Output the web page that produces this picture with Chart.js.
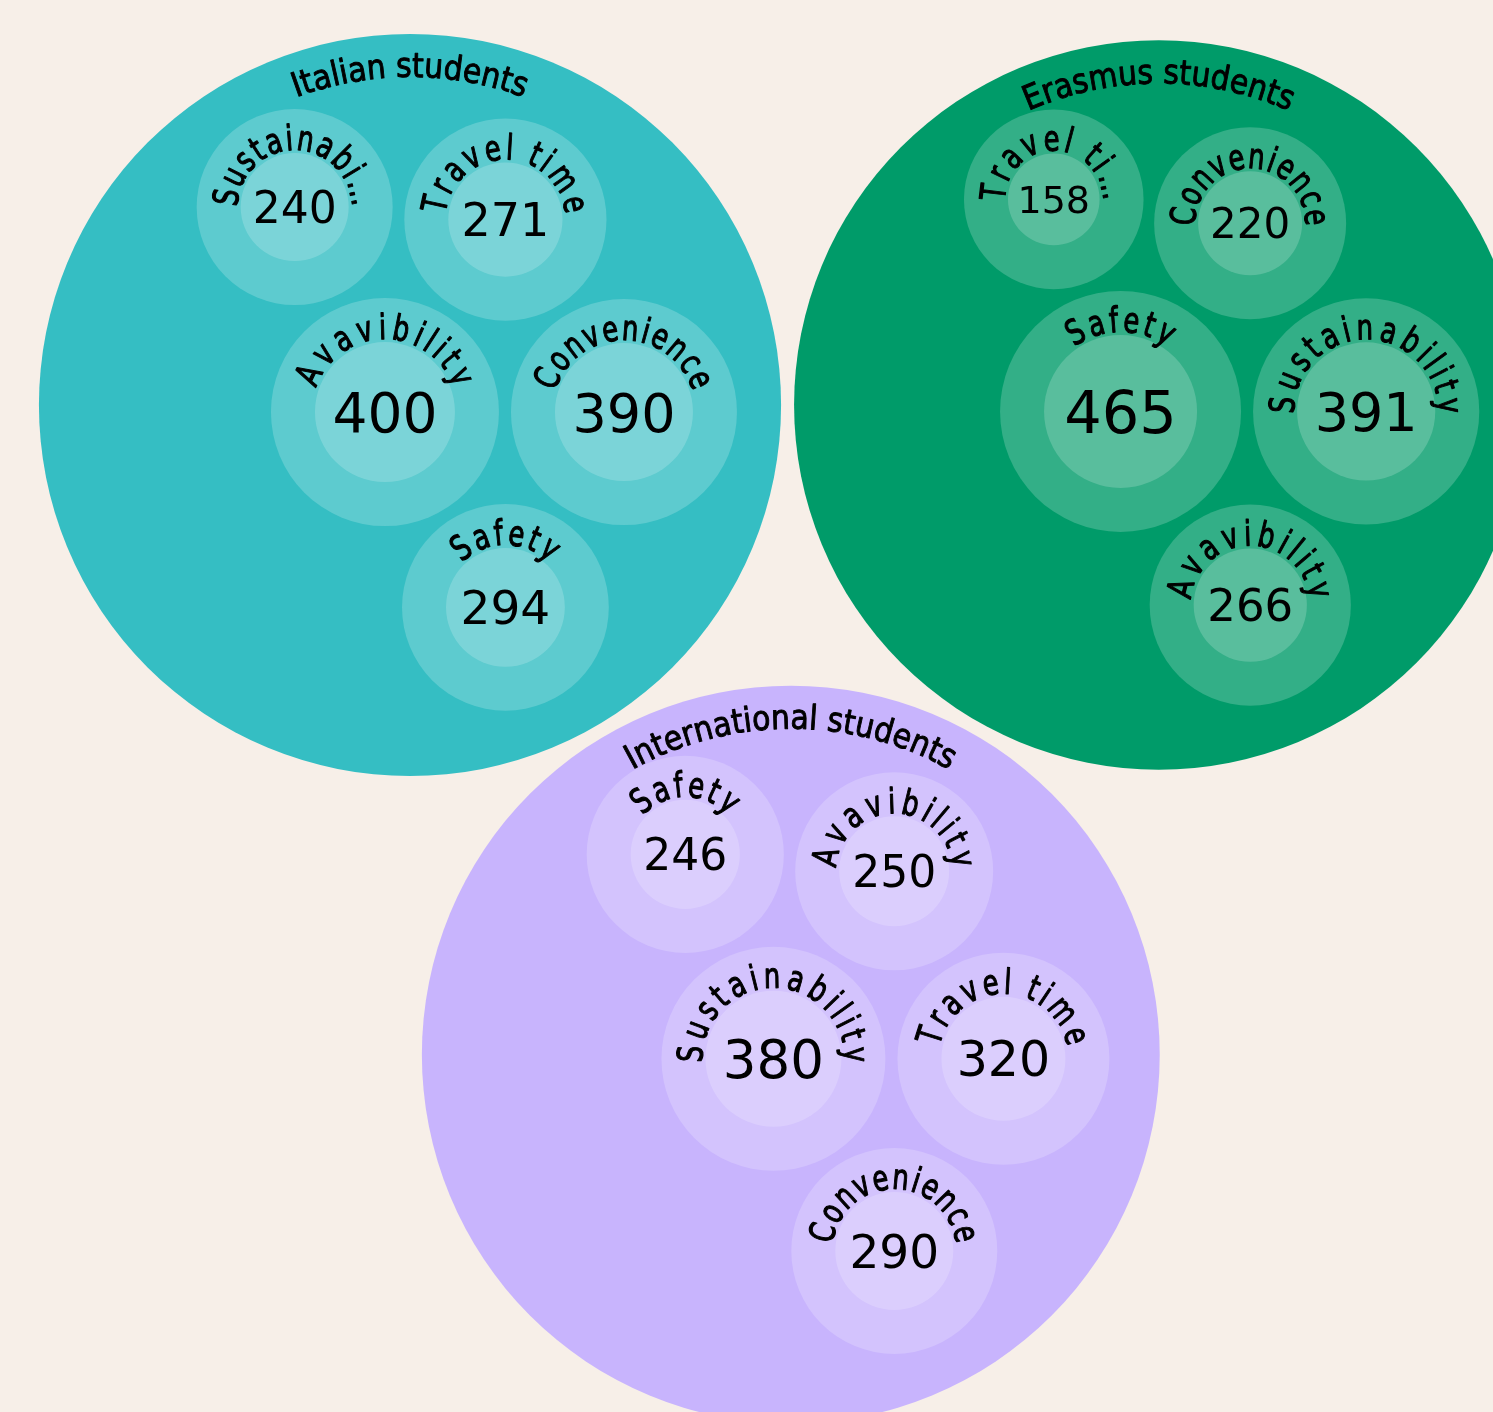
<!DOCTYPE html>
<html>
<head>
<meta charset="utf-8">
<title>Students' priorities</title>
<script src="https://cdn.jsdelivr.net/npm/chart.js@4.4.1/dist/chart.umd.min.js"></script>
<style>
  html, body { margin: 0; padding: 0; background: #f7efe8; overflow: hidden; }
  #wrap { width: 1493px; height: 1412px; position: relative; }
</style>
</head>
<body>
<div id="wrap"><canvas id="chart"></canvas></div>
<script>
//Data
const groups = ["Italian students", "Erasmus students", "International students"];
const groupColors = ["#35bec3", "#009b69", "#c8b4fd"];

const italianLabels = ["Sustainability", "Travel time", "Avavibility", "Convenience", "Safety"];
const italianValues = [240, 271, 400, 390, 294];

const erasmusLabels = ["Travel time", "Convenience", "Safety", "Sustainability", "Avavibility"];
const erasmusValues = [158, 220, 465, 391, 266];

const internationalLabels = ["Safety", "Avavibility", "Sustainability", "Travel time", "Convenience"];
const internationalValues = [246, 250, 380, 320, 290];

const groupLabels = [italianLabels, erasmusLabels, internationalLabels];
const groupValues = [italianValues, erasmusValues, internationalValues];

//Layout settings
const childGap = 12;    // space between two bubbles of the same group
const groupGap = 13;    // space between the big circles
const groupPad = 44;    // room for the group title inside the big circle
const labelFont = "35px 'DejaVu Sans'";
const titleFont = "34px 'DejaVu Sans'";
const labelNarrow = 0.74; // squeeze letters a bit, like the hand-drawn font
const titleNarrow = 0.88;
const charAdvance = 19; // how much arc a label letter takes
const maxArc = 3.37;    // labels longer than this (radians) get cut

function outerRadius(v) { return 74 + v / 10; }
function innerRadius(v) { return 30 + v / 10; }

// circle of radius r touching a and b, on one side of the line a -> b
function tangentTo(a, b, r, side) {
  const dx = b.x - a.x, dy = b.y - a.y;
  const d = Math.hypot(dx, dy);
  const ra = a.r + r, rb = b.r + r;
  const t = (d * d + ra * ra - rb * rb) / (2 * d);
  const h = Math.sqrt(Math.max(0, ra * ra - t * t));
  const ux = dx / d, uy = dy / d;
  return { x: a.x + t * ux - side * h * uy, y: a.y + t * uy + side * h * ux, r: r };
}

// smallest circle around a few circles
function enclose(circles) {
  const far = (px, py) => Math.max(...circles.map(c => Math.hypot(px - c.x, py - c.y) + c.r));
  const holds = (e) => circles.every(c => Math.hypot(e.x - c.x, e.y - c.y) + c.r <= e.r + 1e-6);
  // first try circles spanned by two of them
  let best = null;
  for (let i = 0; i < circles.length; i++) {
    for (let j = i + 1; j < circles.length; j++) {
      const a = circles[i], b = circles[j];
      const d = Math.hypot(b.x - a.x, b.y - a.y);
      const r = (d + a.r + b.r) / 2;
      const ux = (b.x - a.x) / d, uy = (b.y - a.y) / d;
      const e = { x: a.x + ux * (r - a.r), y: a.y + uy * (r - a.r), r: r };
      if (holds(e) && (!best || e.r < best.r)) best = e;
    }
  }
  if (best) return best;
  // otherwise search around the centroid
  let x = circles.reduce((s, c) => s + c.x, 0) / circles.length;
  let y = circles.reduce((s, c) => s + c.y, 0) / circles.length;
  let f0 = far(x, y);
  for (let step = 64; step > 0.005; step /= 2) {
    let moved = true;
    while (moved) {
      moved = false;
      for (let k = 0; k < 720; k++) {
        const a = k * Math.PI / 360;
        const nx = x + step * Math.cos(a), ny = y + step * Math.sin(a);
        const f = far(nx, ny);
        if (f < f0 - 1e-9) { f0 = f; x = nx; y = ny; moved = true; }
      }
    }
  }
  return { x: x, y: y, r: f0 };
}

// two on top, two in the middle, one below, each touching its neighbours
function packGroup(values) {
  const c = values.map(v => ({ x: 0, y: 0, r: outerRadius(v) + childGap / 2 }));
  c[3].x = c[2].r + c[3].r;
  Object.assign(c[1], tangentTo(c[2], c[3], c[1].r, -1));
  Object.assign(c[0], tangentTo(c[2], c[1], c[0].r, -1));
  Object.assign(c[4], tangentTo(c[2], c[3], c[4].r, 1));
  const real = c.map((p, i) => ({ x: p.x, y: p.y, r: outerRadius(values[i]) }));
  const box = enclose(real);
  return {
    r: box.r + groupPad,
    children: real.map(p => ({ x: p.x - box.x, y: p.y - box.y }))
  };
}

const packed = groupValues.map(packGroup);
const centers = packed.map(g => ({ x: 0, y: 0, r: g.r + groupGap / 2 }));
centers[1].x = centers[0].r + centers[1].r;
Object.assign(centers[2], tangentTo(centers[0], centers[1], centers[2].r, 1));

const groupPoints = packed.map((g, i) => ({ x: centers[i].x, y: centers[i].y, r: g.r }));
const outerPoints = [];
const innerPoints = [];
const childInfo = [];
packed.forEach((g, i) => {
  g.children.forEach((p, j) => {
    const v = groupValues[i][j];
    const x = centers[i].x + p.x, y = centers[i].y + p.y;
    outerPoints.push({ x: x, y: y, r: outerRadius(v) });
    innerPoints.push({ x: x, y: y, r: innerRadius(v) });
    childInfo.push({ label: groupLabels[i][j], value: v });
  });
});

// Text helpers
function fitLabel(text, radius) {
  const maxChars = Math.floor(maxArc * radius / charAdvance);
  if (text.length <= maxChars) return text;
  return text.slice(0, maxChars - 1).trimEnd() + "\u2026";
}

function drawArcText(ctx, text, cx, cy, radius, totalAngle, share, narrow) {
  const chars = [...text];
  const widths = chars.map(ch => ctx.measureText(ch).width * narrow);
  const sumW = widths.reduce((a, b) => a + b, 0);
  if (totalAngle === null) totalAngle = sumW / radius;
  const slots = widths.map(w => totalAngle * (share * w / sumW + (1 - share) / chars.length));
  let ang = -Math.PI / 2 - totalAngle / 2;
  chars.forEach((ch, i) => {
    const a = ang + slots[i] / 2;
    ctx.save();
    ctx.translate(cx + radius * Math.cos(a), cy + radius * Math.sin(a));
    ctx.rotate(a + Math.PI / 2);
    ctx.scale(narrow, 1);
    ctx.fillText(ch, 0, 0);
    ctx.strokeText(ch, 0, 0);
    ctx.restore();
    ang += slots[i];
  });
}

const textPlugin = {
  id: "bubbleText",
  afterDatasetsDraw(chart) {
    const ctx = chart.ctx;
    ctx.save();
    ctx.fillStyle = "#000";
    ctx.strokeStyle = "#000";
    ctx.lineJoin = "round";
    ctx.textAlign = "center";
    ctx.textBaseline = "alphabetic";

    // group titles
    ctx.font = titleFont;
    ctx.lineWidth = 1;
    chart.getDatasetMeta(0).data.forEach((el, i) => {
      drawArcText(ctx, groups[i], el.x, el.y, groupPoints[i].r - 43, null, 1, titleNarrow);
    });

    // values and curved labels
    chart.getDatasetMeta(1).data.forEach((el, k) => {
      const info = childInfo[k];
      const inner = innerRadius(info.value);
      const size = Math.round(0.68 * inner + 7);
      ctx.font = size + "px 'DejaVu Sans'";
      ctx.fillText(String(info.value), el.x, el.y + size * 0.36);

      ctx.font = labelFont;
      ctx.lineWidth = 1.2;
      const mid = inner + 12;
      const text = fitLabel(info.label, mid);
      drawArcText(ctx, text, el.x, el.y, inner + 3, [...text].length * charAdvance / mid, 0.85, labelNarrow);
    });
    ctx.restore();
  }
};

new Chart(document.getElementById("chart"), {
  type: "bubble",
  data: {
    datasets: [
      { label: "groups", data: groupPoints, backgroundColor: groupColors, order: 3, clip: false },
      { label: "topics", data: outerPoints, backgroundColor: "rgba(255,255,255,0.2)", order: 2, clip: false },
      { label: "core", data: innerPoints, backgroundColor: "rgba(255,255,255,0.19)", order: 1, clip: false }
    ]
  },
  options: {
    responsive: true,
    maintainAspectRatio: false,
    animation: false,
    events: [],
    layout: { padding: 0, autoPadding: false },
    elements: { point: { borderWidth: 0, hoverBorderWidth: 0 } },
    scales: {
      x: { type: "linear", display: false, min: -410, max: 1083 },
      y: { type: "linear", display: false, reverse: true, min: -405, max: 1007 }
    },
    plugins: {
      legend: { display: false },
      tooltip: { enabled: false },
      title: { display: false }
    }
  },
  plugins: [textPlugin]
});
</script>
</body>
</html>
